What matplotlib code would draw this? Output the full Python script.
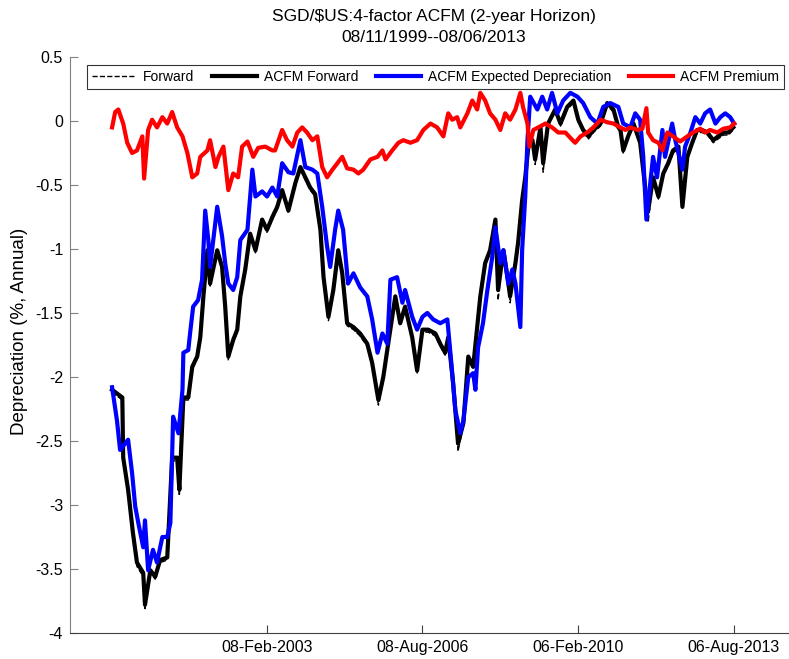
import numpy as np
import pandas as pd
import matplotlib
matplotlib.use("Agg")
import matplotlib.pyplot as plt
import matplotlib.dates as mdates

plt.rcParams['font.family'] = ['Liberation Sans', 'DejaVu Sans']
plt.rcParams['axes.unicode_minus'] = False

# ACFM expected depreciation (blue), time in decimal years
t_exp = [1999.63, 1999.74, 1999.81, 1999.99, 2000.08, 2000.15, 2000.22, 2000.33, 2000.37, 2000.44,
         2000.55, 2000.64, 2000.76, 2000.87, 2000.94, 2001.00, 2001.12, 2001.21, 2001.23, 2001.34,
         2001.38, 2001.45, 2001.56, 2001.65, 2001.72, 2001.79, 2001.83, 2001.99, 2002.10, 2002.17,
         2002.24, 2002.35, 2002.44, 2002.51, 2002.67, 2002.78, 2002.85, 2003.00, 2003.11, 2003.23,
         2003.34, 2003.45, 2003.59, 2003.70, 2003.86, 2003.97, 2004.13, 2004.24, 2004.35, 2004.46,
         2004.53, 2004.64, 2004.71, 2004.82, 2004.93, 2005.05, 2005.20, 2005.36, 2005.47, 2005.59,
         2005.70, 2005.81, 2005.88, 2006.03, 2006.15, 2006.21, 2006.37, 2006.48, 2006.60, 2006.71,
         2006.84, 2007.00, 2007.16, 2007.27, 2007.34, 2007.45, 2007.52, 2007.63, 2007.74, 2007.79,
         2007.85, 2007.96, 2008.06, 2008.17, 2008.24, 2008.35, 2008.42, 2008.53, 2008.62, 2008.69,
         2008.80, 2008.84, 2008.91, 2008.96, 2009.02, 2009.18, 2009.29, 2009.40, 2009.51, 2009.63,
         2009.76, 2009.92, 2010.08, 2010.21, 2010.37, 2010.53, 2010.66, 2010.82, 2011.00, 2011.11,
         2011.27, 2011.38, 2011.49, 2011.56, 2011.63, 2011.72, 2011.78, 2011.87, 2011.99, 2012.05,
         2012.21, 2012.28, 2012.44, 2012.50, 2012.62, 2012.73, 2012.84, 2012.95, 2013.06, 2013.18,
         2013.29, 2013.40, 2013.51, 2013.60]
v_exp = [-2.08, -2.34, -2.57, -2.49, -2.75, -3.01, -3.14, -3.33, -3.12, -3.51,
         -3.35, -3.45, -3.25, -3.25, -3.14, -2.31, -2.44, -2.10, -1.81, -1.79,
         -1.66, -1.45, -1.40, -1.24, -0.70, -0.93, -1.14, -0.67, -0.90, -1.11,
         -1.27, -1.32, -1.22, -0.93, -0.85, -0.38, -0.59, -0.55, -0.59, -0.52,
         -0.59, -0.33, -0.40, -0.41, -0.15, -0.36, -0.38, -0.41, -0.67, -0.98,
         -1.14, -0.85, -0.70, -0.85, -1.27, -1.19, -1.30, -1.37, -1.55, -1.81,
         -1.66, -1.74, -1.24, -1.22, -1.42, -1.32, -1.53, -1.63, -1.53, -1.50,
         -1.55, -1.58, -1.55, -1.97, -2.26, -2.44, -2.34, -2.00, -1.97, -2.10,
         -1.77, -1.58, -1.32, -1.06, -0.83, -1.11, -1.01, -1.27, -1.16, -1.27,
         -1.61, -1.01, -0.59, -0.15, 0.19, 0.09, 0.19, 0.09, 0.22, 0.06,
         0.16, 0.22, 0.19, 0.14, 0.03, -0.02, 0.11, 0.14, 0.11, -0.02,
         -0.05, 0.06, 0.01, -0.28, -0.77, -0.48, -0.28, -0.44, -0.07, -0.28,
         -0.02, -0.15, -0.38, -0.20, -0.09, 0.03, -0.02, 0.06, 0.09, -0.02,
         0.03, 0.06, 0.03, -0.02]

# ACFM forward (thick black) and market forward (dashed)
t_fwd = [1999.63, 1999.86, 1999.88, 1999.99, 2000.10, 2000.19, 2000.33, 2000.37, 2000.49, 2000.60,
         2000.71, 2000.87, 2000.98, 2001.09, 2001.14, 2001.23, 2001.34, 2001.43, 2001.54, 2001.61,
         2001.68, 2001.77, 2001.83, 2001.99, 2002.10, 2002.17, 2002.24, 2002.35, 2002.44, 2002.51,
         2002.62, 2002.73, 2002.85, 2003.00, 2003.11, 2003.23, 2003.34, 2003.45, 2003.59, 2003.75,
         2003.86, 2003.97, 2004.08, 2004.19, 2004.31, 2004.38, 2004.49, 2004.60, 2004.71, 2004.80,
         2004.91, 2005.05, 2005.20, 2005.36, 2005.47, 2005.61, 2005.72, 2005.83, 2005.99, 2006.10,
         2006.21, 2006.37, 2006.48, 2006.60, 2006.73, 2006.89, 2007.00, 2007.11, 2007.18, 2007.29,
         2007.40, 2007.52, 2007.63, 2007.74, 2007.90, 2008.01, 2008.12, 2008.24, 2008.30, 2008.42,
         2008.51, 2008.57, 2008.69, 2008.75, 2008.84, 2008.91, 2008.98, 2009.07, 2009.13, 2009.25,
         2009.31, 2009.42, 2009.58, 2009.70, 2009.85, 2009.99, 2010.10, 2010.21, 2010.33, 2010.44,
         2010.60, 2010.75, 2010.89, 2011.00, 2011.04, 2011.11, 2011.22, 2011.34, 2011.49, 2011.61,
         2011.67, 2011.78, 2011.90, 2012.01, 2012.12, 2012.23, 2012.35, 2012.44, 2012.55, 2012.66,
         2012.77, 2012.88, 2013.00, 2013.13, 2013.24, 2013.36, 2013.47, 2013.58]
v_acfm_fwd = [-2.10, -2.16, -2.63, -2.88, -3.22, -3.45, -3.53, -3.78, -3.51, -3.56,
              -3.43, -3.41, -2.63, -2.63, -2.88, -2.16, -2.16, -1.92, -1.84, -1.69,
              -1.37, -1.01, -1.27, -1.01, -1.14, -1.45, -1.84, -1.71, -1.63, -1.37,
              -1.16, -0.88, -1.01, -0.77, -0.85, -0.75, -0.67, -0.54, -0.70, -0.48,
              -0.36, -0.44, -0.52, -0.57, -0.85, -1.22, -1.53, -1.32, -1.01, -1.19,
              -1.58, -1.61, -1.66, -1.74, -1.89, -2.18, -2.00, -1.74, -1.37, -1.58,
              -1.45, -1.69, -1.95, -1.63, -1.63, -1.66, -1.74, -1.81, -1.69, -2.05,
              -2.52, -2.36, -1.84, -1.92, -1.37, -1.11, -1.01, -0.77, -1.32, -1.01,
              -1.22, -1.37, -1.11, -0.95, -0.62, -0.44, -0.20, -0.15, -0.30, -0.05,
              -0.33, -0.02, 0.09, -0.02, 0.11, 0.16, 0.01, -0.07, -0.12, -0.07,
              -0.02, 0.14, 0.09, -0.05, -0.05, -0.23, -0.12, -0.02, -0.17, -0.54,
              -0.70, -0.44, -0.59, -0.41, -0.33, -0.23, -0.20, -0.67, -0.28, -0.17,
              -0.07, -0.07, -0.09, -0.15, -0.12, -0.09, -0.09, -0.05]
v_fwd = [-2.12, -2.18, -2.66, -2.90, -3.25, -3.48, -3.56, -3.81, -3.53, -3.58,
         -3.45, -3.43, -2.66, -2.65, -2.93, -2.18, -2.18, -1.94, -1.86, -1.71,
         -1.39, -1.03, -1.29, -1.03, -1.16, -1.47, -1.87, -1.73, -1.65, -1.39,
         -1.18, -0.90, -1.03, -0.79, -0.87, -0.77, -0.69, -0.56, -0.72, -0.50,
         -0.38, -0.46, -0.54, -0.59, -0.87, -1.24, -1.56, -1.34, -1.03, -1.21,
         -1.60, -1.63, -1.68, -1.76, -1.91, -2.22, -2.02, -1.76, -1.39, -1.60,
         -1.47, -1.71, -1.97, -1.65, -1.65, -1.68, -1.76, -1.83, -1.71, -2.07,
         -2.58, -2.38, -1.86, -1.94, -1.39, -1.13, -1.03, -0.79, -1.40, -1.03,
         -1.25, -1.42, -1.13, -0.97, -0.64, -0.46, -0.22, -0.17, -0.34, -0.07,
         -0.40, -0.04, 0.07, -0.04, 0.09, 0.14, -0.01, -0.09, -0.14, -0.09,
         -0.04, 0.12, 0.07, -0.07, -0.07, -0.25, -0.14, -0.04, -0.19, -0.56,
         -0.79, -0.46, -0.61, -0.43, -0.35, -0.25, -0.22, -0.69, -0.30, -0.19,
         -0.09, -0.09, -0.11, -0.17, -0.14, -0.11, -0.11, -0.07]

# ACFM premium (red)
t_prem = [1999.63, 1999.70, 1999.77, 1999.88, 1999.97, 2000.08, 2000.19, 2000.31, 2000.35, 2000.44,
          2000.53, 2000.64, 2000.76, 2000.87, 2000.98, 2001.09, 2001.21, 2001.32, 2001.43, 2001.54,
          2001.61, 2001.77, 2001.83, 2001.95, 2002.02, 2002.13, 2002.24, 2002.35, 2002.46, 2002.55,
          2002.67, 2002.80, 2002.91, 2003.07, 2003.23, 2003.29, 2003.45, 2003.56, 2003.68, 2003.79,
          2003.90, 2004.01, 2004.13, 2004.24, 2004.35, 2004.46, 2004.58, 2004.69, 2004.80, 2004.91,
          2005.05, 2005.16, 2005.27, 2005.43, 2005.59, 2005.70, 2005.77, 2005.92, 2006.06, 2006.17,
          2006.33, 2006.48, 2006.62, 2006.78, 2006.93, 2007.07, 2007.18, 2007.27, 2007.38, 2007.45,
          2007.61, 2007.72, 2007.83, 2007.90, 2008.01, 2008.12, 2008.24, 2008.35, 2008.46, 2008.57,
          2008.69, 2008.80, 2008.86, 2008.96, 2009.00, 2009.09, 2009.20, 2009.36, 2009.51, 2009.65,
          2009.81, 2009.97, 2010.03, 2010.15, 2010.30, 2010.44, 2010.60, 2010.75, 2010.89, 2011.04,
          2011.16, 2011.27, 2011.43, 2011.54, 2011.63, 2011.67, 2011.78, 2011.90, 2011.99, 2012.10,
          2012.23, 2012.39, 2012.55, 2012.68, 2012.84, 2012.95, 2013.06, 2013.22, 2013.36, 2013.51,
          2013.60]
v_prem = [-0.05, 0.07, 0.09, -0.02, -0.17, -0.25, -0.23, -0.12, -0.45, -0.07,
          0.01, -0.05, 0.03, -0.02, 0.07, -0.05, -0.12, -0.25, -0.44, -0.41,
          -0.28, -0.23, -0.15, -0.36, -0.28, -0.20, -0.54, -0.41, -0.44, -0.20,
          -0.16, -0.28, -0.21, -0.20, -0.23, -0.23, -0.07, -0.15, -0.20, -0.09,
          -0.05, -0.09, -0.15, -0.12, -0.36, -0.44, -0.38, -0.33, -0.28, -0.37,
          -0.38, -0.41, -0.38, -0.30, -0.28, -0.23, -0.30, -0.23, -0.17, -0.15,
          -0.17, -0.15, -0.07, -0.02, -0.05, -0.12, 0.06, 0.01, 0.03, -0.05,
          0.06, 0.16, 0.09, 0.22, 0.16, 0.06, 0.01, -0.07, 0.06, 0.01,
          0.09, 0.22, 0.11, -0.02, -0.20, -0.07, -0.05, -0.02, -0.05, -0.09,
          -0.09, -0.15, -0.17, -0.12, -0.09, -0.05, 0.01, -0.01, -0.02, -0.05,
          -0.07, -0.05, -0.07, -0.06, 0.10, -0.09, -0.15, -0.17, -0.23, -0.09,
          -0.12, -0.16, -0.12, -0.09, -0.06, -0.09, -0.07, -0.09, -0.06, -0.05,
          -0.02]

tick_dates = ['2003-02-08', '2006-08-08', '2010-02-06', '2013-08-06']


def to_dates(years):
    out = []
    for y in years:
        yr = int(y)
        out.append(pd.Timestamp(yr, 1, 1) + pd.Timedelta(days=(y - yr) * 365.25))
    return out


fig = plt.figure(figsize=(7.89, 6.59), dpi=100)
ax = fig.add_axes([70 / 789, 1 - 633 / 659, 719 / 789, 576 / 659])

ax.plot(to_dates(t_fwd), v_fwd, '--', color='black', lw=1.0, label='Forward')
ax.plot(to_dates(t_fwd), v_acfm_fwd, '-', color='black', lw=3.0, label='ACFM Forward')
ax.plot(to_dates(t_exp), v_exp, '-', color='#0000ff', lw=3.0, label='ACFM Expected Depreciation')
ax.plot(to_dates(t_prem), v_prem, '-', color='#ff0000', lw=3.0, label='ACFM Premium')

ax.set_xlim(pd.Timestamp('1998-09-08'), pd.Timestamp('2014-11-01'))
ax.set_ylim(-4, 0.5)
ax.set_yticks(np.arange(-4, 0.51, 0.5))
ax.set_yticklabels(['%g' % v for v in np.arange(-4, 0.51, 0.5)])
ax.set_xticks([pd.Timestamp(d) for d in tick_dates])
ax.xaxis.set_major_formatter(mdates.DateFormatter('%d-%b-%Y'))

ax.spines['top'].set_visible(False)
ax.spines['right'].set_visible(False)
ax.spines['left'].set_color('#808080')
ax.spines['bottom'].set_color('#404040')
ax.tick_params(direction='in', length=6, labelsize=11.5, pad=5, colors='black')
ax.tick_params(axis='y', color='#808080')
ax.tick_params(axis='x', color='#404040')

ax.set_ylabel('Depreciation (%, Annual)', fontsize=13.5)
ax.yaxis.set_label_coords(-0.058, 0.523)

fig.text(434 / 789, 1 - 17 / 659, 'SGD/$US:4-factor ACFM (2-year Horizon)', ha='center', va='center', fontsize=12.5)
fig.text(434 / 789, 1 - 38 / 659, '08/11/1999--08/06/2013', ha='center', va='center', fontsize=12.5)

leg = ax.legend(loc='upper center', bbox_to_anchor=(435.5 / 789, 1 - 65 / 659), bbox_transform=fig.transFigure,
                ncol=4, fontsize=10, frameon=True, fancybox=False, borderaxespad=0,
                handlelength=3.2, columnspacing=1.3, handletextpad=0.5, borderpad=0.35)
leg.get_frame().set_edgecolor('black')
leg.get_frame().set_linewidth(0.8)

fig.savefig('out.png', dpi=100)
